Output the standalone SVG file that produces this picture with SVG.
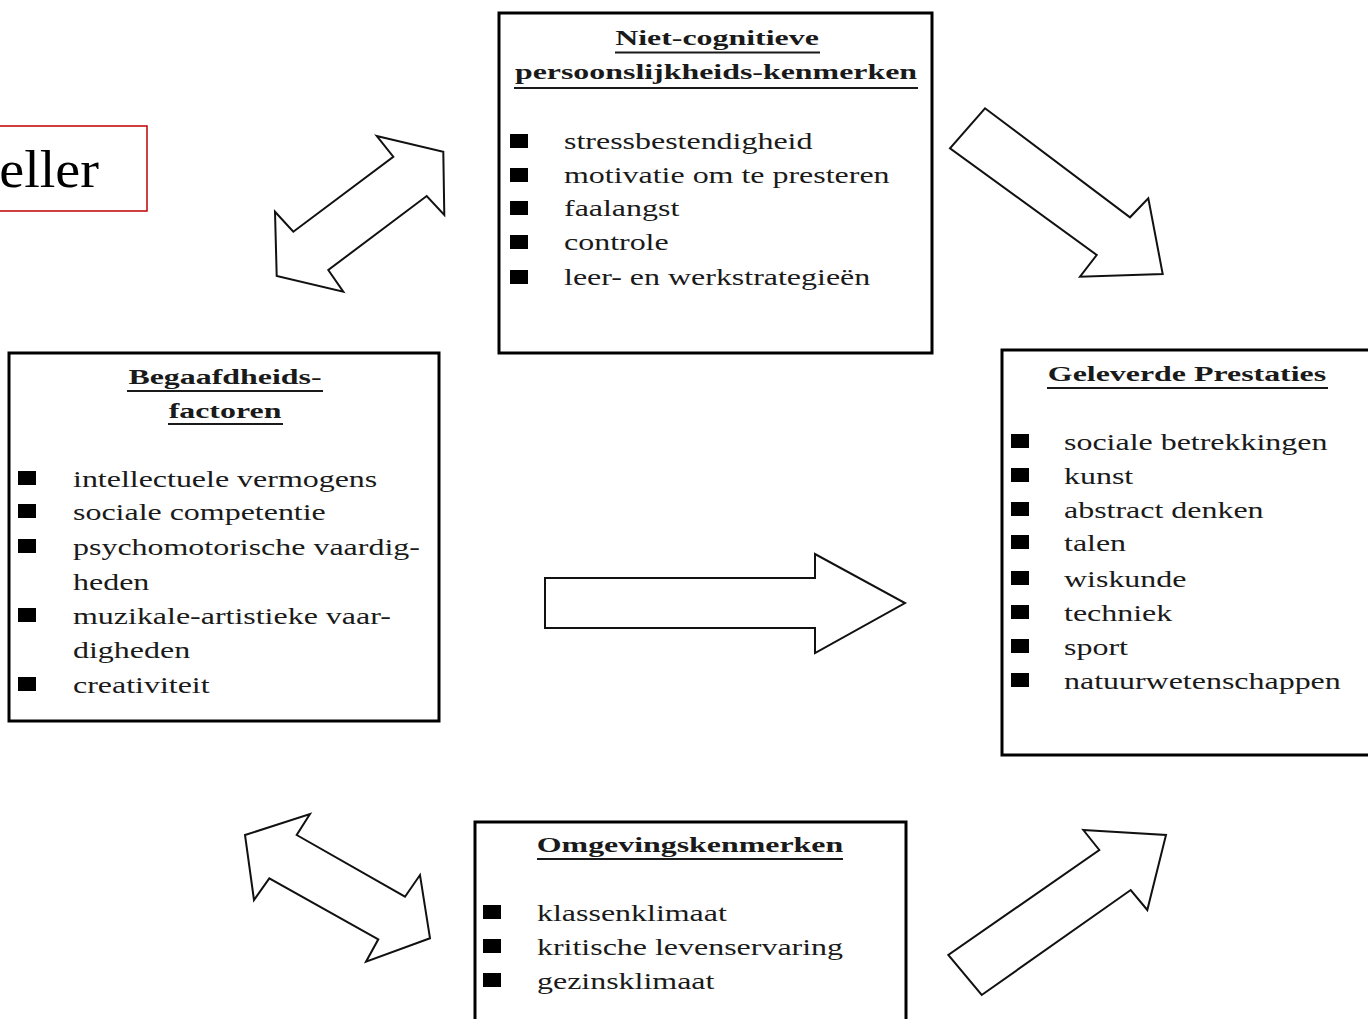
<svg xmlns="http://www.w3.org/2000/svg" width="1368" height="1019" viewBox="0 0 1368 1019">
<style>
.box{fill:#fff;stroke:#000;stroke-width:3}
.arr{fill:#fff;stroke:#111;stroke-width:2;stroke-linejoin:miter}
.t{font-family:"Liberation Serif","Times New Roman",serif;font-size:23px;fill:#1a1a1a}
.h{font-family:"Liberation Serif","Times New Roman",serif;font-size:22px;font-weight:bold;fill:#1a1a1a;text-anchor:middle}
.u{stroke:#1a1a1a;stroke-width:2}
.b{fill:#000}
</style>
<rect width="1368" height="1019" fill="#fff"/>

<g id="title-eller">
<rect x="-10" y="126" width="157" height="85" fill="#fff" stroke="#c00000" stroke-width="1.5"/>
<text transform="translate(99,187) scale(1.08,1)" text-anchor="end" font-family="Liberation Serif, Times New Roman, serif" font-size="52" fill="#000">eller</text>
</g>

<g id="connectors">
<polygon class="arr" points="376.7,136 443.3,151.7 444.3,215 426.7,196 328.3,270 343.3,291.7 276.7,276 275,211.7 293.3,231.7 393.3,156.7"/>
<polygon class="arr" points="985,108.3 950,148.3 1096.7,255 1080,276.7 1162.7,274 1148.3,198.3 1130,217.3"/>
<polygon class="arr" points="545,578 815,578 815,554 905,603 815,653 815,628 545,628"/>
<polygon class="arr" points="310,814 296.7,835 405,896.7 420,875 430,938.3 366,961.7 378.3,939.3 269.3,878.3 254,900 245,835"/>
<polygon class="arr" points="1083.3,830 1166,835 1147.3,910 1130.7,890 981.7,995 948.3,955 1099.3,850"/>
</g>

<g id="node-niet-cognitief">
<rect class="box" x="499" y="13" width="433" height="340"/>
<text class="h" transform="translate(717,45) scale(1.45,1)">Niet-cognitieve</text>
<line class="u" x1="615" y1="52.5" x2="820" y2="52.5"/>
<text class="h" transform="translate(716,79) scale(1.45,1)">persoonslijkheids-kenmerken</text>
<line class="u" x1="514" y1="88" x2="918" y2="88"/>
<rect class="b" x="510" y="134" width="18" height="14"/>
<text class="t" transform="translate(564,149) scale(1.39,1)">stressbestendigheid</text>
<rect class="b" x="510" y="168" width="18" height="14"/>
<text class="t" transform="translate(564,183) scale(1.39,1)">motivatie om te presteren</text>
<rect class="b" x="510" y="201" width="18" height="14"/>
<text class="t" transform="translate(564,216) scale(1.39,1)">faalangst</text>
<rect class="b" x="510" y="235" width="18" height="14"/>
<text class="t" transform="translate(564,250) scale(1.39,1)">controle</text>
<rect class="b" x="510" y="270" width="18" height="14"/>
<text class="t" transform="translate(564,285) scale(1.39,1)">leer- en werkstrategieën</text>
</g>

<g id="node-begaafdheid">
<rect class="box" x="9" y="353" width="430" height="368"/>
<text class="h" transform="translate(225,384) scale(1.45,1)">Begaafdheids-</text>
<line class="u" x1="127" y1="391" x2="323" y2="391"/>
<text class="h" transform="translate(225,418) scale(1.45,1)">factoren</text>
<line class="u" x1="168" y1="424" x2="283" y2="424"/>
<rect class="b" x="18" y="471" width="18" height="14"/>
<text class="t" transform="translate(73,487) scale(1.39,1)">intellectuele vermogens</text>
<rect class="b" x="18" y="504" width="18" height="14"/>
<text class="t" transform="translate(73,520) scale(1.39,1)">sociale competentie</text>
<rect class="b" x="18" y="539" width="18" height="14"/>
<text class="t" transform="translate(73,555) scale(1.39,1)">psychomotorische vaardig-</text>
<text class="t" transform="translate(73,590) scale(1.39,1)">heden</text>
<rect class="b" x="18" y="608" width="18" height="14"/>
<text class="t" transform="translate(73,624) scale(1.39,1)">muzikale-artistieke vaar-</text>
<text class="t" transform="translate(73,658) scale(1.39,1)">digheden</text>
<rect class="b" x="18" y="677" width="18" height="14"/>
<text class="t" transform="translate(73,693) scale(1.39,1)">creativiteit</text>
</g>

<g id="node-prestaties">
<rect class="box" x="1002" y="350" width="400" height="405"/>
<text class="h" transform="translate(1187,381) scale(1.45,1)">Geleverde Prestaties</text>
<line class="u" x1="1047" y1="388" x2="1328" y2="388"/>
<rect class="b" x="1011" y="434" width="18" height="14"/>
<text class="t" transform="translate(1064,450) scale(1.39,1)">sociale betrekkingen</text>
<rect class="b" x="1011" y="468" width="18" height="14"/>
<text class="t" transform="translate(1064,484) scale(1.39,1)">kunst</text>
<rect class="b" x="1011" y="502" width="18" height="14"/>
<text class="t" transform="translate(1064,518) scale(1.39,1)">abstract denken</text>
<rect class="b" x="1011" y="535" width="18" height="14"/>
<text class="t" transform="translate(1064,551) scale(1.39,1)">talen</text>
<rect class="b" x="1011" y="571" width="18" height="14"/>
<text class="t" transform="translate(1064,587) scale(1.39,1)">wiskunde</text>
<rect class="b" x="1011" y="605" width="18" height="14"/>
<text class="t" transform="translate(1064,621) scale(1.39,1)">techniek</text>
<rect class="b" x="1011" y="639" width="18" height="14"/>
<text class="t" transform="translate(1064,655) scale(1.39,1)">sport</text>
<rect class="b" x="1011" y="673" width="18" height="14"/>
<text class="t" transform="translate(1064,689) scale(1.39,1)">natuurwetenschappen</text>
</g>

<g id="node-omgeving">
<rect class="box" x="475" y="822" width="431" height="260"/>
<text class="h" transform="translate(690,852) scale(1.45,1)">Omgevingskenmerken</text>
<line class="u" x1="537" y1="859" x2="843" y2="859"/>
<rect class="b" x="483" y="905" width="18" height="14"/>
<text class="t" transform="translate(537,921) scale(1.39,1)">klassenklimaat</text>
<rect class="b" x="483" y="939" width="18" height="14"/>
<text class="t" transform="translate(537,955) scale(1.39,1)">kritische levenservaring</text>
<rect class="b" x="483" y="973" width="18" height="14"/>
<text class="t" transform="translate(537,989) scale(1.39,1)">gezinsklimaat</text>
</g>
</svg>
